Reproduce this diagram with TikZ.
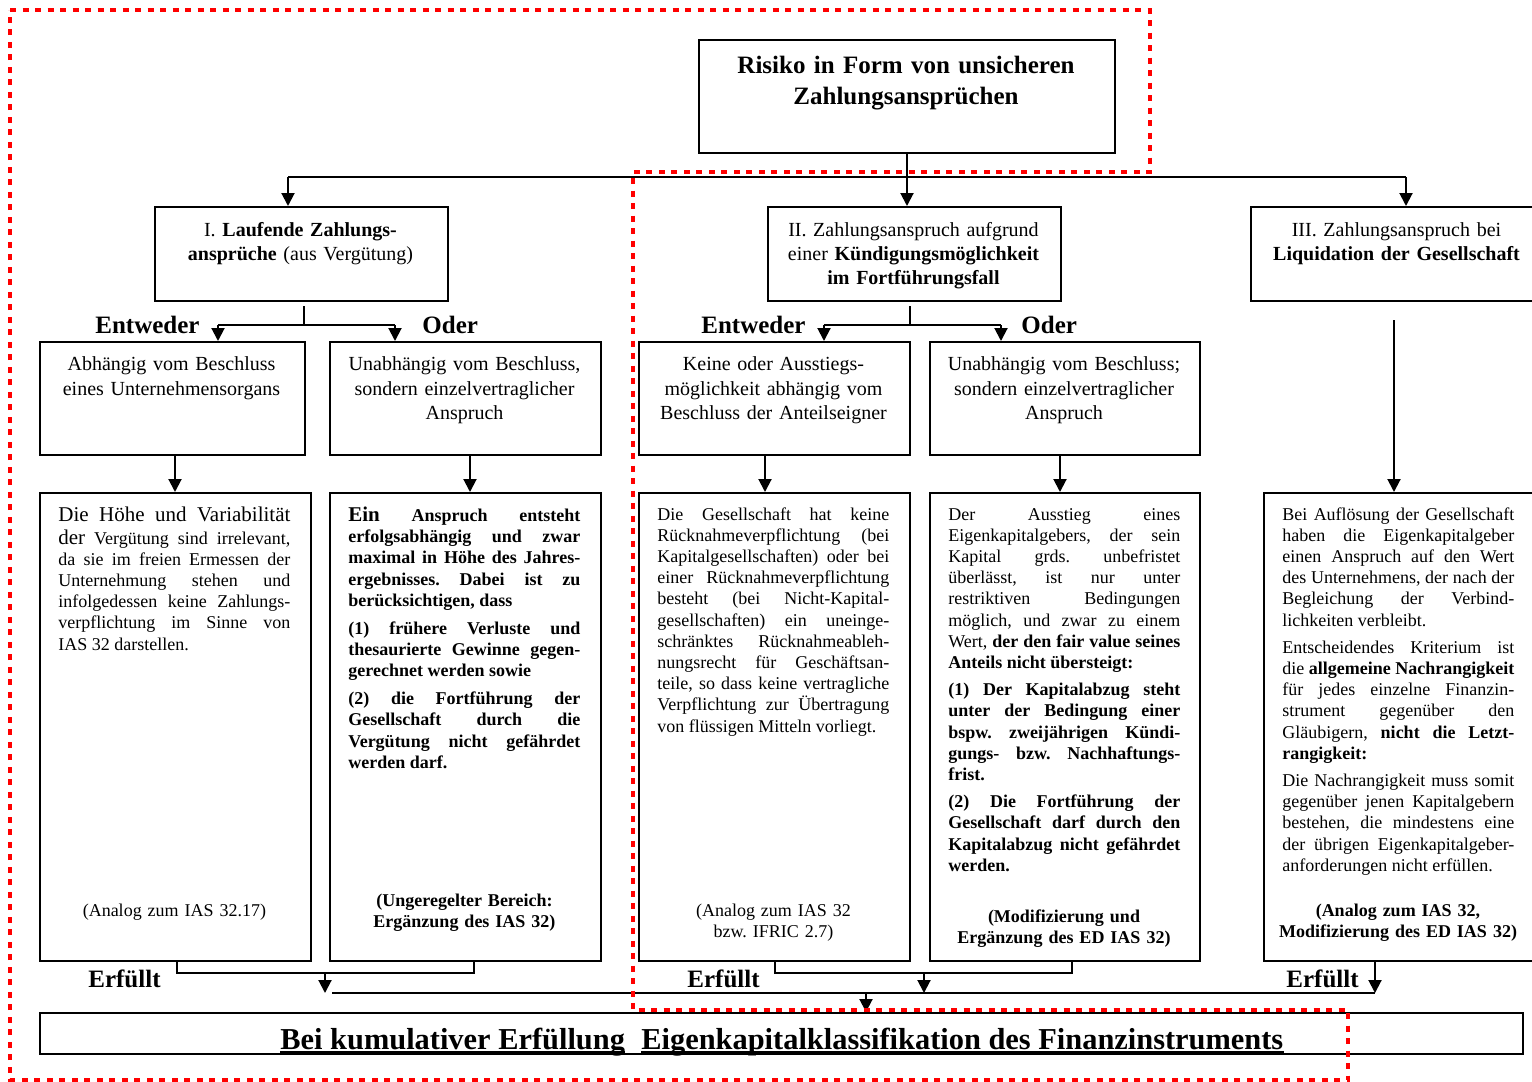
\documentclass[tikz,border=0pt]{standalone}
\usepackage{fontspec}
\setmainfont{Liberation Serif}
\usetikzlibrary{arrows.meta}

\begin{document}
\frenchspacing
\begin{tikzpicture}[x=0.5pt,y=-0.5pt,
  frame/.style={draw, line width=1pt, inner sep=0pt, anchor=north west},
  conn/.style={line width=1pt},
  arr/.style={line width=1pt, -{Triangle[length=6.5pt,width=6.5pt]}},
  redline/.style={red, line width=2.25pt, dash pattern=on 3pt off 3.25pt},
  head/.style={anchor=base, inner sep=0pt, text width=145pt, align=center, font=\fontsize{10}{12}\selectfont},
  sub/.style={anchor=base, inner sep=0pt, text width=132pt, align=center, font=\fontsize{10}{12.25}\selectfont},
  body/.style={anchor=base west, inner sep=0pt, text width=116pt, align=justify,
    font=\fontsize{9}{10.6}\selectfont,
    execute at begin node={\setlength{\parskip}{3pt}\setlength{\parindent}{0pt}%
      \tolerance=10000 \hyphenpenalty=10000 \exhyphenpenalty=10000 }},
  note/.style={anchor=base, inner sep=0pt, text width=130pt, align=center, font=\fontsize{9}{10.5}\selectfont},
  bnote/.style={note, font=\bfseries\fontsize{9}{10.5}\selectfont},
  lbl/.style={anchor=base west, inner sep=0pt, font=\bfseries\fontsize{12.5}{15}\selectfont},
  final/.style={anchor=base west, inner sep=0pt, font=\bfseries\fontsize{15.2}{18}\selectfont},
]
\path[use as bounding box, fill=white] (0,0) rectangle (1532,1082);

% ---------- boxes ----------
\node[frame, minimum width=208pt, minimum height=56.5pt] (top) at (698,39) {};
\node[frame, minimum width=146.5pt, minimum height=47pt] (boxI) at (154,206) {};
\node[frame, minimum width=146.5pt, minimum height=47pt] (boxII) at (767,206) {};
\node[frame, minimum width=146.5pt, minimum height=47pt] (boxIII) at (1250,206) {};

\node[frame, minimum width=132.5pt, minimum height=56.5pt] (a1) at (39,341) {};
\node[frame, minimum width=135.5pt, minimum height=56.5pt] (a2) at (329,341) {};
\node[frame, minimum width=135.5pt, minimum height=56.5pt] (a3) at (638,341) {};
\node[frame, minimum width=135pt, minimum height=56.5pt] (a4) at (929,341) {};

\node[frame, minimum width=135.5pt, minimum height=234pt] (b1) at (39,492) {};
\node[frame, minimum width=135.5pt, minimum height=234pt] (b2) at (329,492) {};
\node[frame, minimum width=135.5pt, minimum height=234pt] (b3) at (638,492) {};
\node[frame, minimum width=135pt, minimum height=234pt] (b4) at (929,492) {};
\node[frame, minimum width=135.5pt, minimum height=234pt] (b5) at (1263,492) {};

\node[frame, minimum width=741.5pt, minimum height=20.5pt] (res) at (39,1012) {};

% ---------- headings ----------
\node[anchor=base, inner sep=0pt, text width=205pt, align=center, font=\bfseries\fontsize{12.5}{15.5}\selectfont]
  (top-t) at (906,73) {Risiko in Form von unsicheren\\Zahlungsansprüchen};
\node[head] (boxI-t) at (300.5,236.5) {I. \textbf{Laufende Zahlungs-}\\\textbf{ansprüche} (aus Vergütung)};
\node[head] (boxII-t) at (913.5,236.5) {II. Zahlungsanspruch aufgrund\\einer \textbf{Kündigungsmöglichkeit}\\\textbf{im Fortführungsfall}};
\node[head] (boxIII-t) at (1396.5,236.5) {III. Zahlungsanspruch bei\\\textbf{Liquidation der Gesellschaft}};

\node[sub] (a1-t) at (171.5,370.5) {Abhängig vom Beschluss\\eines Unternehmensorgans};
\node[sub] (a2-t) at (464.5,370.5) {Unabhängig vom Beschluss,\\sondern einzelvertraglicher\\Anspruch};
\node[sub] (a3-t) at (773.5,370.5) {Keine oder Ausstiegs-\\möglichkeit abhängig vom\\Beschluss der Anteilseigner};
\node[sub] (a4-t) at (1064,370.5) {Unabhängig vom Beschluss;\\sondern einzelvertraglicher\\Anspruch};

% ---------- criteria texts ----------
\node[body] (b1-t) at (58,521) {{\fontsize{10.5}{10.6}\selectfont Die Höhe und Variabilität\vadjust{\vskip0.9pt}\linebreak der} Vergütung sind irrelevant,\linebreak da sie im freien Ermessen der\linebreak Unternehmung stehen und\linebreak infolgedessen keine Zahlungs-\linebreak verpflichtung im Sinne von\linebreak IAS 32 darstellen.};

\node[body, font=\bfseries\fontsize{9}{10.7}\selectfont] (b2-t) at (348,521) {{\fontsize{10.5}{10.7}\selectfont Ein} Anspruch entsteht\linebreak erfolgsabhängig und zwar\linebreak maximal in Höhe des Jahres-\linebreak ergebnisses. Dabei ist zu\linebreak berücksichtigen, dass\par
(1) frühere Verluste und\linebreak thesaurierte Gewinne gegen-\linebreak gerechnet werden sowie\par
(2) die Fortführung der\linebreak Gesellschaft durch die\linebreak Vergütung nicht gefährdet\linebreak werden darf.};

\node[body] (b3-t) at (657,520) {Die Gesellschaft hat keine\linebreak Rücknahmeverpflichtung (bei\linebreak Kapitalgesellschaften) oder bei\linebreak einer Rücknahmeverpflichtung\linebreak besteht (bei Nicht-Kapital-\linebreak gesellschaften) ein uneinge-\linebreak schränktes Rücknahmeableh-\linebreak nungsrecht für Geschäftsan-\linebreak teile, so dass keine vertragliche\linebreak Verpflichtung zur Übertragung\linebreak von flüssigen Mitteln vorliegt.};

\node[body] (b4-t) at (948,520) {Der Ausstieg eines\linebreak Eigenkapitalgebers, der sein\linebreak Kapital grds. unbefristet\linebreak überlässt, ist nur unter\linebreak restriktiven Bedingungen\linebreak möglich, und zwar zu einem\linebreak Wert, \textbf{der den fair value seines}\linebreak \textbf{Anteils nicht übersteigt:}\par
\textbf{(1) Der Kapitalabzug steht\linebreak unter der Bedingung einer\linebreak bspw. zweijährigen Kündi-\linebreak gungs- bzw. Nachhaftungs-\linebreak frist.}\par
\textbf{(2) Die Fortführung der\linebreak Gesellschaft darf durch den\linebreak Kapitalabzug nicht gefährdet\linebreak werden.}};

\node[body] (b5-t) at (1282,520) {Bei Auflösung der Gesellschaft\linebreak haben die Eigenkapitalgeber\linebreak einen Anspruch auf den Wert\linebreak des Unternehmens, der nach der\linebreak Begleichung der Verbind-\linebreak lichkeiten verbleibt.\par
Entscheidendes Kriterium ist\linebreak die \textbf{allgemeine Nachrangigkeit}\linebreak für jedes einzelne Finanzin-\linebreak strument gegenüber den\linebreak Gläubigern, \textbf{nicht die Letzt-}\linebreak \textbf{rangigkeit:}\par
Die Nachrangigkeit muss somit\linebreak gegenüber jenen Kapitalgebern\linebreak bestehen, die mindestens eine\linebreak der übrigen Eigenkapitalgeber-\linebreak anforderungen nicht erfüllen.};

% ---------- sources ----------
\node[note] (n1) at (174.5,916) {(Analog zum IAS 32.17)};
\node[bnote] (n2) at (464.5,906) {(Ungeregelter Bereich:\\Ergänzung des IAS 32)};
\node[note] (n3) at (773.5,916) {(Analog zum IAS 32\\bzw. IFRIC 2.7)};
\node[bnote] (n4) at (1064,922) {(Modifizierung und\\Ergänzung des ED IAS 32)};
\node[bnote] (n5) at (1398,916) {(Analog zum IAS 32,\\Modifizierung des ED IAS 32)};

% ---------- labels ----------
\node[lbl] (ent1) at (95,333) {Entweder};
\node[lbl] (oder1) at (422,333) {Oder};
\node[lbl] (ent2) at (701,333) {Entweder};
\node[lbl] (oder2) at (1021,333) {Oder};
\node[lbl] (erf1) at (88,987) {Erfüllt};
\node[lbl] (erf2) at (687,987) {Erfüllt};
\node[lbl] (erf3) at (1286,987) {Erfüllt};

\node[final] (res1) at (280,1049) {Bei kumulativer Erfüllung};
\node[final] (res2) at (641,1049) {Eigenkapitalklassifikation des Finanzinstruments};
\draw[conn] ([yshift=-1.6pt]res1.base west) -- ([yshift=-1.6pt]res1.base east);
\draw[conn] ([yshift=-1.6pt]res2.base west) -- ([yshift=-1.6pt]res2.base east);

% ---------- connectors: top level ----------
\coordinate (t1) at (288,177);
\coordinate (t3) at (1406,177);
\draw[conn] (t1) -- (t3);
\draw[arr] (t1) -- (t1 |- boxI.north);
\draw[arr] (top.south) -- (top.south |- boxII.north);
\draw[arr] (t3) -- (t3 |- boxIII.north);

% either / or splits
\coordinate (f1) at (304,306);
\coordinate (e1) at (218,325);
\coordinate (o1) at (395,325);
\draw[conn] (f1) -- (f1 |- e1);
\draw[conn] (e1) -- (o1);
\draw[arr] (e1) -- (e1 |- a1.north);
\draw[arr] (o1) -- (o1 |- a2.north);

\coordinate (f2) at (910,306);
\coordinate (e2) at (824,325);
\coordinate (o2) at (1001,325);
\draw[conn] (f2) -- (f2 |- e2);
\draw[conn] (e2) -- (o2);
\draw[arr] (e2) -- (e2 |- a3.north);
\draw[arr] (o2) -- (o2 |- a4.north);

% conditions to criteria
\draw[arr] (175,0 |- a1.south) -- (175,0 |- b1.north);
\draw[arr] (470,0 |- a2.south) -- (470,0 |- b2.north);
\draw[arr] (765,0 |- a3.south) -- (765,0 |- b3.north);
\draw[arr] (1060,0 |- a4.south) -- (1060,0 |- b4.north);
\coordinate (g3) at (1394,320);
\draw[arr] (g3) -- (g3 |- b5.north);

% fulfilled -> result
\coordinate (m1) at (177,973);
\coordinate (m2) at (474,973);
\draw[conn] (m1 |- b1.south) -- (m1) -- (m2) -- (m2 |- b2.south);
\coordinate (m3) at (775,973);
\coordinate (m4) at (1072,973);
\draw[conn] (m3 |- b3.south) -- (m3) -- (m4) -- (m4 |- b4.south);

\coordinate (busl) at (332,993);
\coordinate (busr) at (1375,993);
\draw[conn] (busl) -- (busr);
\draw[arr] (325,973) -- (325,993);
\draw[arr] (924,973) -- (924,993);
\draw[arr] (busr |- b5.south) -- (busr);
\draw[arr] (866,993) -- (866,0 |- res.north);

% ---------- dotted outline ----------
\draw[redline] (10,10) -- (1150,10) -- (1150,172) -- (633,172) -- (633,1010)
  -- (1348,1010) -- (1348,1080) -- (10,1080) -- cycle;
\end{tikzpicture}
\end{document}
